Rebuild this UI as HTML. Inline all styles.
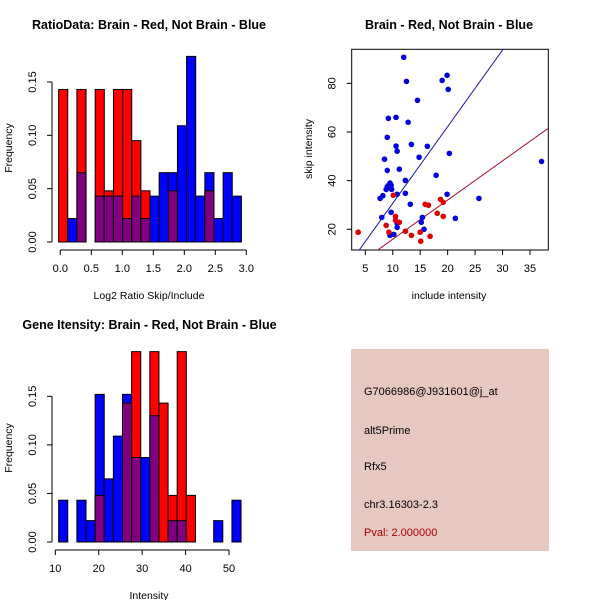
<!DOCTYPE html>
<html><head><meta charset="utf-8"><style>
body{margin:0;background:#fff}
svg{display:block;font-family:"Liberation Sans",sans-serif}
</style></head><body>
<svg id="s" width="600" height="600" xmlns="http://www.w3.org/2000/svg">
<g>
<text x="149" y="29" text-anchor="middle" font-size="12.5" font-weight="bold">RatioData: Brain - Red, Not Brain - Blue</text>
<text transform="translate(12,148) rotate(-90)" text-anchor="middle" font-size="10.5">Frequency</text>
<text x="149" y="299" text-anchor="middle" font-size="10.5">Log2 Ratio Skip/Include</text>
<g id="h1"></g>
</g>
<g>
<text x="449" y="29" text-anchor="middle" font-size="12.5" font-weight="bold">Brain - Red, Not Brain - Blue</text>
<text transform="translate(312,149) rotate(-90)" text-anchor="middle" font-size="10.5">skip intensity</text>
<text x="449" y="299" text-anchor="middle" font-size="10.5">include intensity</text>
<g id="sc"></g>
</g>
<g>
<text x="149.5" y="329" text-anchor="middle" font-size="12.5" font-weight="bold">Gene Itensity: Brain - Red, Not Brain - Blue</text>
<text transform="translate(12,448) rotate(-90)" text-anchor="middle" font-size="10.5">Frequency</text>
<text x="149" y="599" text-anchor="middle" font-size="10.5">Intensity</text>
<g id="h2"></g>
</g>
<g font-size="11">
<rect x="351" y="349" width="198" height="202" fill="#e6c8c1"/>
<text x="364" y="395">G7066986@J931601@j_at</text>
<text x="364" y="434">alt5Prime</text>
<text x="364" y="470">Rfx5</text>
<text x="364" y="508">chr3.16303-2.3</text>
<text x="364" y="536" fill="#aa0000">Pval: 2.000000</text>
</g>
</svg>
<script>
// Ratio histogram data
const ratioBinStart = -0.027, ratioBinWidth = 0.1474;
const ratioRed  = [0.143,0,0.143,0,0.143,0.048,0.143,0.143,0.095,0.048,0,0,0.048,0,0,0,0.048,0,0,0];
const ratioBlue = [0,0.022,0.065,0,0.043,0.043,0.043,0.022,0.043,0.022,0.043,0.065,0.065,0.109,0.174,0.043,0.065,0.022,0.065,0.043];
const ratioXTicks = [0,0.5,1,1.5,2,2.5,3];
const ratioXLabels = ["0.0","0.5","1.0","1.5","2.0","2.5","3.0"];
const freqTicks = [0,0.05,0.10,0.15];
const freqLabels = ["0.00","0.05","0.10","0.15"];
// Intensity histogram data
const intBinStart = 10.77, intBinWidth = 2.1;
const intRed  = [0,0,0,0,0.048,0,0,0.143,0.196,0,0.196,0.143,0.048,0.196,0.048,0,0,0,0,0];
const intBlue = [0.043,0,0.043,0.022,0.152,0.065,0.109,0.152,0.087,0.087,0.130,0,0.022,0.022,0,0,0,0.022,0,0.043];
const intXTicks = [10,20,30,40,50];
// Scatter data
const blueX = [12.0,12.5,14.5,19.0,19.9,20.1,9.2,10.6,12.8,9.0,10.6,10.8,13.4,16.3,14.8,20.3,8.5,9.0,11.2,12.3,17.9,9.5,9.2,9.0,8.8,9.7,9.8,10.8,12.3,8.2,7.7,13.2,19.9,25.7,37.1,8.0,9.7,15.4,15.2,10.8,10.8,15.7,21.4,10.2,9.5];
const blueY = [90.7,80.8,73,81.2,83.3,77.5,65.6,66,64,57.8,54.2,52.1,54.9,54.1,49.6,51.2,48.8,44.2,44.7,40.1,42.2,39,38,37.5,36.4,38.1,36.4,34.4,34.8,33.8,32.7,30.3,34.4,32.7,47.9,24.9,27,24.9,22.9,22.5,20.8,20,24.5,17.9,17.5];
const redX = [3.7,10.1,8.8,9.3,10.5,10.5,11.2,12.3,13.4,15.0,15.1,16.8,15.9,16.5,18.7,19.2,18.1,19.2];
const redY = [18.8,34,21.6,18.8,25.3,23.7,22.9,19.2,17.5,18.8,15.1,17.1,30.3,29.9,32.3,31.1,26.6,25.3];
const blueFit = [-0.8,3.15];
const redFit = [-0.17,1.61];
const scXTicks = [5,10,15,20,25,30,35];
const scYTicks = [20,40,60,80];

const NS="http://www.w3.org/2000/svg";
function mk(p,tag,a){const e=document.createElementNS(NS,tag);for(const k in a)e.setAttribute(k,a[k]);p.appendChild(e);return e;}

function hist(gid,red,blue,start,w,xs,x0,x1v,y0,yUnit,xTicks,xLabels,axY,yAxX,prefix){
  const g=document.getElementById(gid);
  const X=v=>x0+(v-xs)*x1v;
  const Y=v=>y0-v*yUnit;
  for(let i=0;i<red.length;i++){
    const a=X(start+i*w), b=X(start+(i+1)*w);
    const r=red[i], bl=blue[i];
    const order = r>=bl ? [[r,'#ff0000','red'],[bl,'#0000ff','blue']] : [[bl,'#0000ff','blue'],[r,'#ff0000','red']];
    if(order[0][0]>0){
      const e=mk(g,'rect',{x:a,y:Y(order[0][0]),width:b-a,height:order[0][0]*yUnit,fill:order[0][1],stroke:'#000','stroke-width':1});
      
      
    }
    if(order[1][0]>0){
      const e=mk(g,'rect',{x:a,y:Y(order[1][0]),width:b-a,height:order[1][0]*yUnit,fill:'#800080',stroke:'#000','stroke-width':1});
      
      
    }
  }
  const xa=mk(g,'line',{x1:X(xTicks[0]),x2:X(xTicks[xTicks.length-1]),y1:axY,y2:axY,stroke:'#000'});
  
  
  xTicks.forEach((t,i)=>{
    mk(g,'line',{x1:X(t),x2:X(t),y1:axY,y2:axY+5,stroke:'#000'});
    const tx=mk(g,'text',{x:X(t),y:axY+22,'text-anchor':'middle','font-size':'11'});
    tx.textContent=xLabels[i];
    
    
  });
  const ya=mk(g,'line',{x1:yAxX,x2:yAxX,y1:Y(0),y2:Y(freqTicks[freqTicks.length-1]),stroke:'#000'});
  
  
  freqTicks.forEach((t,i)=>{
    mk(g,'line',{x1:yAxX-5,x2:yAxX,y1:Y(t),y2:Y(t),stroke:'#000'});
    const tx=mk(g,'text',{transform:`translate(${yAxX-16},${Y(t)}) rotate(-90)`,'text-anchor':'middle','font-size':'11'});
    tx.textContent=freqLabels[i];
    
    
  });
}
hist('h1',ratioRed,ratioBlue,ratioBinStart,ratioBinWidth,0,60.3,62,242,1066.7,ratioXTicks,ratioXLabels,250,52,'ratio');
hist('h2',intRed,intBlue,intBinStart,intBinWidth,10,55.3,4.343,542,971.3,intXTicks,intXTicks.map(String),550,52,'intensity');

(function(){
  const g=document.getElementById('sc');
  const L=351.7,R=548.3,T=49.3,B=250;
  const X=v=>365.3+(v-5)*5.49;
  const Y=v=>229.3-(v-20)*2.433;
  const cp=mk(g,'clipPath',{id:'clip'});
  mk(cp,'rect',{x:L,y:T,width:R-L,height:B-T});
  const box=mk(g,'rect',{x:L,y:T,width:R-L,height:B-T,fill:'none',stroke:'#000'});
  
  
  const xs=[0,50];
  [[blueFit,'#1a1aa8','blue-fit-line'],[redFit,'#a8102a','red-fit-line']].forEach(([f,c,n])=>{
    const l=mk(g,'line',{x1:X(xs[0]),y1:Y(f[0]+f[1]*xs[0]),x2:X(xs[1]),y2:Y(f[0]+f[1]*xs[1]),stroke:c,'clip-path':'url(#clip)'});
    
    
  });
  blueX.forEach((x,i)=>{
    const c=mk(g,'circle',{cx:X(x),cy:Y(blueY[i]),r:2.8,fill:'#0000dd'});
    
    
  });
  redX.forEach((x,i)=>{
    const c=mk(g,'circle',{cx:X(x),cy:Y(redY[i]),r:2.8,fill:'#dd0000'});
    
    
  });
  scXTicks.forEach(t=>{
    mk(g,'line',{x1:X(t),x2:X(t),y1:B,y2:B+5,stroke:'#000'});
    const tx=mk(g,'text',{x:X(t),y:B+22,'text-anchor':'middle','font-size':'11'});
    tx.textContent=t;
    
    
  });
  scYTicks.forEach(t=>{
    mk(g,'line',{x1:L-5,x2:L,y1:Y(t),y2:Y(t),stroke:'#000'});
    const tx=mk(g,'text',{transform:`translate(${L-16},${Y(t)}) rotate(-90)`,'text-anchor':'middle','font-size':'11'});
    tx.textContent=t;
    
    
  });
})();
</script>
</body></html>
